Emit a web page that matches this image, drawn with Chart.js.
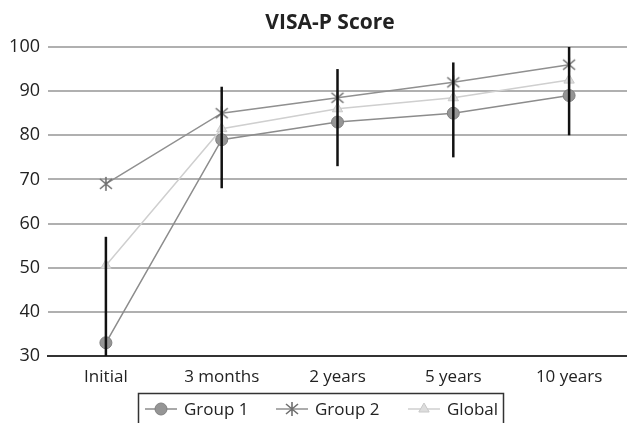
<!DOCTYPE html>
<html>
<head>
<meta charset="utf-8">
<script src="https://cdn.jsdelivr.net/npm/chart.js@4/dist/chart.umd.min.js"></script>
<style>
  html, body { margin: 0; padding: 0; background: #fff; }
  #wrap { width: 627px; height: 423px; }
</style>
</head>
<body>
<div id="wrap"><canvas id="visaChart" width="627" height="423"></canvas></div>
<script>
// values
var timepoints = ['Initial', '3 months', '2 years', '5 years', '10 years'];
var group1 = [33, 79, 83, 85, 89];
var group2 = [69, 85, 88.5, 92, 96];
var globalScores = [50.5, 81.5, 86, 88.5, 92.5];
// error bar ends (group 1)
var errLow = [9, 68, 73, 75, 80];
var errHigh = [57, 91, 95, 96.5, 100];
var yTicks = [30, 40, 50, 60, 70, 80, 90, 100];

var fontName = "'Open Sans', 'Liberation Sans', sans-serif";

// Excel style star marker: an X with a vertical stroke
function makeStar(color) {
    var c = document.createElement('canvas');
    c.width = 16;
    c.height = 16;
    var g = c.getContext('2d');
    g.strokeStyle = color;
    g.lineWidth = 1.6;
    g.beginPath();
    g.moveTo(2, 3); g.lineTo(14, 13);
    g.moveTo(14, 3); g.lineTo(2, 13);
    g.moveTo(8, 1); g.lineTo(8, 15);
    g.stroke();
    return c;
}
var starMarker = makeStar('#6f6f6f');

// draws the vertical black error bars
var errorBarPlugin = {
    id: 'errorBars',
    afterDatasetsDraw: function(chart) {
        var ctx = chart.ctx;
        var x = chart.scales.x, y = chart.scales.y;
        var area = chart.chartArea;
        ctx.save();
        ctx.beginPath();
        ctx.rect(area.left, area.top - 5, area.right - area.left, area.bottom - area.top + 5);
        ctx.clip();
        ctx.strokeStyle = '#111';
        ctx.lineWidth = 2.5;
        for (var i = 0; i < timepoints.length; i++) {
            var px = x.getPixelForValue(i);
            ctx.beginPath();
            ctx.moveTo(px, y.getPixelForValue(errHigh[i]));
            ctx.lineTo(px, Math.min(y.getPixelForValue(errLow[i]), area.bottom));
            ctx.stroke();
        }
        ctx.restore();
    }
};

// title and boxed legend with line + marker samples
var titleLegendPlugin = {
    id: 'titleLegend',
    afterDraw: function(chart) {
        var ctx = chart.ctx;
        ctx.save();
        ctx.fillStyle = '#222';
        ctx.font = 'bold 21px ' + fontName;
        ctx.textAlign = 'center';
        ctx.textBaseline = 'middle';
        ctx.fillText('VISA-P Score', 330, 23);

        // legend box
        ctx.strokeStyle = '#333';
        ctx.lineWidth = 1.5;
        ctx.strokeRect(138.5, 393.5, 365, 40);

        var starts = [145, 276, 408];
        ctx.font = '17px ' + fontName;
        ctx.textAlign = 'left';
        chart.data.datasets.forEach(function(ds, i) {
            var sx = starts[i], cy = 409;
            ctx.strokeStyle = ds.borderColor;
            ctx.lineWidth = 1.5;
            ctx.beginPath();
            ctx.moveTo(sx, cy);
            ctx.lineTo(sx + 32, cy);
            ctx.stroke();
            ctx.fillStyle = ds.pointBackgroundColor;
            ctx.strokeStyle = ds.pointBorderColor;
            ctx.lineWidth = ds.pointBorderWidth;
            Chart.helpers.drawPoint(ctx, {
                pointStyle: ds.pointStyle,
                radius: ds.pointRadius,
                borderWidth: ds.pointBorderWidth
            }, sx + 16, cy);
            ctx.fillStyle = '#222';
            ctx.fillText(ds.label, sx + 39, cy + 1);
        });
        ctx.restore();
    }
};

var ctx = document.getElementById('visaChart').getContext('2d');
var visaChart = new Chart(ctx, {
    type: 'line',
    data: {
        labels: timepoints,
        datasets: [{
            label: 'Group 1',
            data: group1,
            borderColor: '#8c8c8c',
            borderWidth: 1.5,
            pointStyle: 'circle',
            pointRadius: 6,
            pointBorderWidth: 1,
            pointBackgroundColor: '#959595',
            pointBorderColor: '#808080'
        }, {
            label: 'Group 2',
            data: group2,
            borderColor: '#909090',
            borderWidth: 1.5,
            pointStyle: starMarker,
            pointRadius: 7,
            pointBorderWidth: 1.5,
            pointBackgroundColor: '#777',
            pointBorderColor: '#777'
        }, {
            label: 'Global',
            data: globalScores,
            borderColor: '#cfcfcf',
            borderWidth: 1.5,
            pointStyle: 'triangle',
            pointRadius: 6,
            pointBorderWidth: 1,
            pointBackgroundColor: '#ddd',
            pointBorderColor: '#c8c8c8'
        }]
    },
    options: {
        responsive: false,
        animation: false,
        layout: { autoPadding: false, padding: { top: 47, right: 0, left: 0, bottom: 0 } },
        plugins: {
            legend: { display: false },
            title: { display: false },
            tooltip: { enabled: false }
        },
        elements: { line: { tension: 0 } },
        scales: {
            x: {
                offset: true,
                grid: { display: false, drawTicks: false },
                border: { display: true, color: '#333', width: 2 },
                ticks: { color: '#222', font: { family: fontName, size: 17 }, padding: 11, maxRotation: 0 },
                afterFit: function(scale) {
                    scale.height = 67;
                    scale.paddingLeft = 0;
                    scale.paddingRight = 0;
                }
            },
            y: {
                min: 30,
                max: 100,
                afterBuildTicks: function(scale) {
                    scale.ticks = yTicks.map(function(v) { return { value: v }; });
                },
                grid: { color: '#b0b0b0', lineWidth: 2, drawTicks: false },
                border: { display: false },
                ticks: { color: '#222', font: { family: fontName, size: 18 }, padding: 8 },
                afterFit: function(scale) { scale.width = 48; }
            }
        }
    },
    plugins: [errorBarPlugin, titleLegendPlugin]
});
</script>
</body>
</html>
